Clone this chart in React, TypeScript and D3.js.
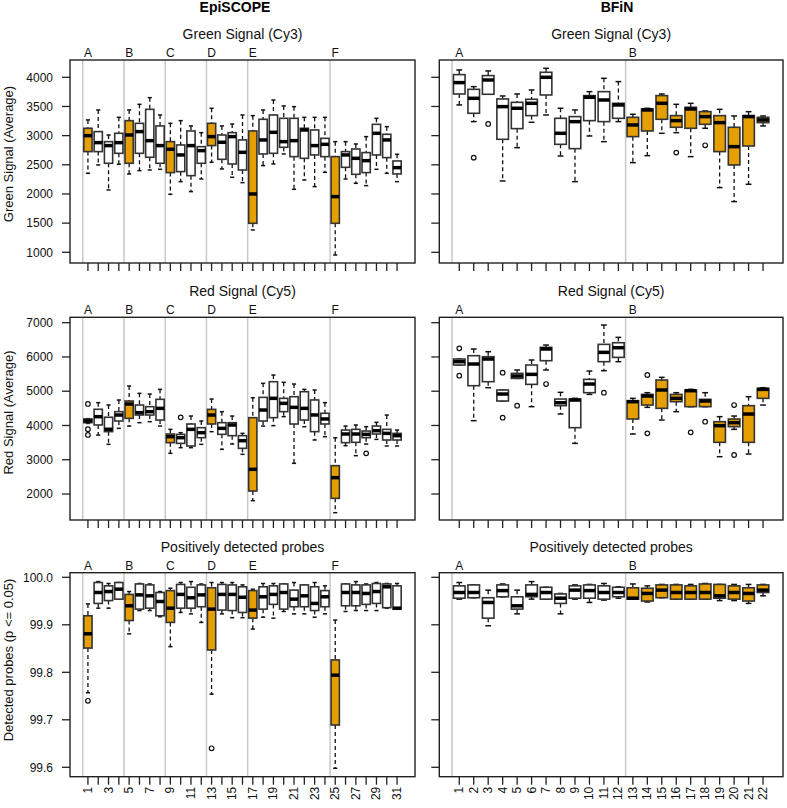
import React from "react";
import * as d3 from "d3";

type Stat = [number, number, number, number, number]; // lower whisker, q1, median, q3, upper whisker
type Out = [number, number]; // [box number, value]

const epiGreen: Stat[] = [
  [2354, 2726, 3000, 3126, 3269], [2497, 2726, 2880, 3069, 3440], [2069, 2526, 2829, 2897, 3011],
  [2509, 2697, 2880, 3040, 3314], [2343, 2526, 3011, 3257, 3440], [2400, 2697, 3069, 3211, 3537],
  [2411, 2629, 2914, 3451, 3651], [2423, 2526, 2829, 3166, 3354], [1994, 2366, 2766, 2897, 3211],
  [2211, 2383, 2669, 2840, 3257], [2040, 2314, 2829, 3080, 3166], [2257, 2526, 2743, 2811, 3051],
  [2543, 2829, 2983, 3211, 3469], [2429, 2594, 2886, 3011, 3166], [2286, 2514, 2983, 3051, 3200],
  [2194, 2411, 2714, 2926, 3354], [1383, 1497, 2000, 3080, 3343], [2486, 2686, 2926, 3280, 3440],
  [2514, 2697, 3057, 3354, 3611], [2686, 2800, 2897, 3297, 3509], [2080, 2640, 2914, 3297, 3497],
  [2240, 2611, 3097, 3126, 3314], [2126, 2669, 2829, 3097, 3314], [2371, 2640, 2851, 2954, 3314],
  [954, 1497, 1954, 2640, 2897], [2257, 2457, 2669, 2726, 2897], [2183, 2337, 2611, 2771, 2857],
  [2143, 2366, 2571, 2709, 2983], [2423, 2669, 3040, 3194, 3297], [2354, 2623, 2926, 3023, 3154],
  [2211, 2343, 2451, 2566, 2680],
];
const epiGreenOut: Out[] = [];

const bfinGreen: Stat[] = [
  [3526, 3714, 3909, 4046, 4126], [3240, 3383, 3640, 3794, 3840], [3709, 3709, 3954, 4029, 4109],
  [2223, 2937, 3497, 3629, 3680], [2794, 3120, 3469, 3571, 3714], [3229, 3343, 3554, 3623, 3783],
  [3354, 3697, 4000, 4086, 4154], [2651, 2851, 3040, 3297, 3469], [2211, 2777, 3240, 3326, 3440],
  [2994, 3257, 3657, 3686, 3754], [2897, 3240, 3611, 3754, 3983], [3240, 3297, 3526, 3554, 3926],
  [2537, 2983, 3183, 3314, 3366], [2657, 3080, 3440, 3457, 3469], [3040, 3280, 3554, 3686, 3714],
  [3051, 3143, 3257, 3343, 3537], [2640, 3126, 3457, 3486, 3554], [3126, 3194, 3326, 3411, 3423],
  [2109, 2726, 3223, 3343, 3451], [1869, 2497, 2811, 3143, 3337], [2166, 2823, 3326, 3343, 3411],
  [3166, 3223, 3269, 3314, 3337],
];
const bfinGreenOut: Out[] = [[2, 2623], [3, 3200], [16, 2709], [18, 2834]];

const epiRed: Stat[] = [
  [4060, 4082, 4135, 4190, 4200], [3720, 4015, 4257, 4473, 4666], [3450, 3820, 3890, 4240, 4598],
  [3916, 4130, 4305, 4403, 4743], [3984, 4208, 4626, 4714, 5152], [4082, 4305, 4374, 4597, 4938],
  [4111, 4305, 4403, 4549, 4918], [3984, 4159, 4500, 4763, 5054], [3187, 3498, 3673, 3751, 3887],
  [3352, 3478, 3644, 3741, 3790], [3352, 3401, 3887, 4043, 4276], [3449, 3644, 3790, 3936, 4130],
  [3819, 4043, 4305, 4471, 4772], [3303, 3741, 3916, 4082, 4403], [3459, 3702, 4014, 4082, 4276],
  [3158, 3333, 3556, 3702, 3770], [1805, 2087, 2720, 4228, 4811], [3984, 4130, 4451, 4821, 5230],
  [3994, 4228, 4792, 5278, 5473], [4257, 4403, 4646, 4792, 5259], [2895, 4043, 4529, 4840, 5210],
  [3965, 4159, 4500, 4986, 5054], [3577, 3820, 4307, 4745, 5036], [3673, 4044, 4190, 4356, 4666],
  [1455, 1873, 2477, 2827, 3640], [3410, 3498, 3751, 3867, 3984], [3119, 3508, 3751, 3887, 4014],
  [3459, 3644, 3741, 3838, 3965], [3595, 3751, 3848, 3984, 4092], [3401, 3576, 3770, 3887, 4305],
  [3401, 3576, 3702, 3770, 3867],
];
const epiRedOut: Out[] = [[1, 4628], [1, 3890], [1, 3723], [10, 4237], [28, 3187]];

const bfinRed: Stat[] = [
  [5765, 5765, 5862, 5940, 5940], [4140, 5161, 5794, 6037, 6232], [5103, 5278, 5940, 6008, 6154],
  [4714, 4714, 4918, 5035, 5035], [5375, 5375, 5444, 5521, 5619], [4549, 5200, 5492, 5765, 5911],
  [5619, 5891, 6232, 6280, 6348], [4335, 4578, 4665, 4772, 4967], [3478, 3936, 4743, 4772, 4792],
  [4908, 4957, 5210, 5346, 5589], [5599, 5862, 6134, 6368, 6932], [5862, 5988, 6270, 6416, 6572],
  [3751, 4189, 4694, 4724, 4792], [4529, 4597, 4860, 4908, 4957], [4159, 4500, 5035, 5327, 5405],
  [4403, 4694, 4792, 4908, 4957], [4549, 4549, 5015, 5035, 5054], [4549, 4549, 4714, 4763, 4957],
  [3089, 3508, 3994, 4111, 4257], [3887, 3965, 4082, 4189, 4276], [3167, 3508, 4334, 4578, 4840],
  [4597, 4792, 5054, 5084, 5103],
];
const bfinRedOut: Out[] = [
  [1, 6251], [1, 5453], [4, 5541], [4, 4227], [5, 4578], [7, 5210], [11, 4957],
  [14, 5473], [14, 3770], [17, 3799], [18, 4111], [20, 4597], [20, 3138],
];

const epiDet: Stat[] = [
  [99.757, 99.851, 99.881, 99.919, 99.944], [99.935, 99.945, 99.968, 99.989, 99.991], [99.935, 99.951, 99.970, 99.982, 99.987],
  [99.954, 99.954, 99.975, 99.989, 99.989], [99.881, 99.909, 99.940, 99.964, 99.970], [99.930, 99.933, 99.963, 99.986, 99.987],
  [99.930, 99.935, 99.961, 99.984, 99.986], [99.917, 99.919, 99.949, 99.968, 99.970], [99.854, 99.905, 99.935, 99.972, 99.977],
  [99.926, 99.935, 99.964, 99.985, 99.989], [99.923, 99.935, 99.957, 99.979, 99.991], [99.905, 99.938, 99.963, 99.984, 99.986],
  [99.754, 99.847, 99.933, 99.978, 99.989], [99.923, 99.931, 99.964, 99.985, 99.989], [99.915, 99.930, 99.964, 99.984, 99.989],
  [99.915, 99.926, 99.958, 99.980, 99.984], [99.891, 99.914, 99.931, 99.972, 99.975], [99.916, 99.933, 99.959, 99.980, 99.987],
  [99.914, 99.943, 99.964, 99.982, 99.987], [99.928, 99.933, 99.968, 99.986, 99.986], [99.923, 99.938, 99.954, 99.973, 99.989],
  [99.923, 99.938, 99.961, 99.984, 99.984], [99.916, 99.930, 99.945, 99.980, 99.989], [99.923, 99.938, 99.959, 99.972, 99.982],
  [99.598, 99.689, 99.794, 99.826, 99.910], [99.928, 99.940, 99.968, 99.986, 99.986], [99.930, 99.940, 99.968, 99.984, 99.991],
  [99.930, 99.943, 99.966, 99.984, 99.986], [99.930, 99.945, 99.970, 99.987, 99.989], [99.935, 99.936, 99.980, 99.986, 99.987],
  [99.933, 99.933, 99.935, 99.982, 99.987],
];
const epiDetOut: Out[] = [[1, 99.74], [13, 99.64]];

const bfinDet: Stat[] = [
  [99.954, 99.956, 99.968, 99.982, 99.989], [99.957, 99.957, 99.968, 99.984, 99.984], [99.898, 99.914, 99.947, 99.957, 99.973],
  [99.959, 99.959, 99.972, 99.984, 99.986], [99.923, 99.933, 99.940, 99.959, 99.973], [99.954, 99.959, 99.964, 99.984, 99.991],
  [99.954, 99.954, 99.968, 99.979, 99.979], [99.923, 99.945, 99.956, 99.965, 99.966], [99.954, 99.956, 99.973, 99.982, 99.984],
  [99.947, 99.956, 99.972, 99.984, 99.985], [99.952, 99.954, 99.968, 99.982, 99.987], [99.956, 99.959, 99.968, 99.979, 99.980],
  [99.954, 99.954, 99.956, 99.978, 99.986], [99.948, 99.950, 99.966, 99.977, 99.982], [99.957, 99.957, 99.973, 99.984, 99.985],
  [99.954, 99.954, 99.968, 99.984, 99.985], [99.954, 99.954, 99.968, 99.982, 99.985], [99.954, 99.954, 99.968, 99.986, 99.987],
  [99.951, 99.956, 99.961, 99.985, 99.985], [99.951, 99.954, 99.968, 99.982, 99.985], [99.945, 99.950, 99.966, 99.978, 99.985],
  [99.961, 99.968, 99.973, 99.984, 99.985],
];
const bfinDetOut: Out[] = [];

const epiGroups = ["A", "B", "C", "D", "E", "F"];
const epiGroupStarts = [1, 5, 9, 13, 17, 25];
const bfinGroups = ["A", "B"];
const bfinGroupStarts = [1, 13];
const epiHighlight = [1, 5, 9, 13, 17, 25];
const bfinHighlight = [13, 14, 15, 16, 17, 18, 19, 20, 21, 22];

const greenTicks = [1000, 1500, 2000, 2500, 3000, 3500, 4000];
const redTicks = [2000, 3000, 4000, 5000, 6000, 7000];
const detTicks = [99.6, 99.7, 99.8, 99.9, 100.0];

const columnTitles = ["EpiSCOPE", "BFiN"];
const rowTitles = ["Green Signal (Cy3)", "Red Signal (Cy5)", "Positively detected probes"];
const yAxisTitles = ["Green Signal (Average)", "Red Signal (Average)", "Detected probes (p <= 0.05)"];

const FONT = "'Liberation Sans', Arial, Helvetica, sans-serif";
const ORANGE = "#E69F00";
const DARK = "#333333";

interface PanelProps {
  x0: number; x1: number; y0: number; y1: number;
  stats: Stat[]; outs: Out[];
  yScale: d3.ScaleLinear<number, number>;
  ticks: number[]; tickFmt: (v: number) => string;
  showYLabels: boolean; showXLabels: boolean; xLabelStep: number;
  groups: string[]; groupStarts: number[]; highlight: number[];
  title: string;
}

function Panel(p: PanelProps) {
  const n = p.stats.length;
  const ext = n * 0.04;
  const x = d3.scaleLinear().domain([0.5 - ext, n + 0.5 + ext]).range([p.x0, p.x1]);
  const hw = x(1.4) - x(1); // half box width (boxwex 0.8)
  const sw = hw / 2;
  const y = p.yScale;
  const idx = d3.range(1, n + 1);
  return (
    <g>
      <text x={(p.x0 + p.x1) / 2} y={p.y0 - 21} textAnchor="middle" fontSize={14} fill="#111">{p.title}</text>
      {p.groupStarts.map((s, i) => (
        <g key={"g" + i}>
          <line x1={x(s - 0.5)} x2={x(s - 0.5)} y1={p.y0} y2={p.y1} stroke="#C8C8C8" strokeWidth={1.5} />
          <text x={x(s)} y={p.y0 - 3} textAnchor="middle" fontSize={12} fill="#111">{p.groups[i]}</text>
        </g>
      ))}
      {p.stats.map((s, i) => {
        const cx = x(i + 1);
        const [lo, q1, med, q3, hi] = s;
        const fill = p.highlight.includes(i + 1) ? ORANGE : "#fff";
        return (
          <g key={"b" + i}>
            <line x1={cx} x2={cx} y1={y(hi)} y2={y(q3)} stroke="#111" strokeWidth={1.3} strokeDasharray="4,3" />
            <line x1={cx} x2={cx} y1={y(q1)} y2={y(lo)} stroke="#111" strokeWidth={1.3} strokeDasharray="4,3" />
            <line x1={cx - sw} x2={cx + sw} y1={y(hi)} y2={y(hi)} stroke="#111" strokeWidth={1.5} />
            <line x1={cx - sw} x2={cx + sw} y1={y(lo)} y2={y(lo)} stroke="#111" strokeWidth={1.5} />
            <rect x={cx - hw} y={y(q3)} width={2 * hw} height={Math.max(0.5, y(q1) - y(q3))} fill={fill} stroke={DARK} strokeWidth={1.6} />
            <line x1={cx - hw} x2={cx + hw} y1={y(med)} y2={y(med)} stroke="#000" strokeWidth={3.5} />
          </g>
        );
      })}
      {p.outs.map((o, i) => (
        <circle key={"o" + i} cx={x(o[0])} cy={y(o[1])} r={2.3} fill="none" stroke="#111" strokeWidth={1.2} />
      ))}
      <rect x={p.x0} y={p.y0} width={p.x1 - p.x0} height={p.y1 - p.y0} fill="none" stroke="#222" strokeWidth={1.4} />
      {p.ticks.map((t, i) => (
        <g key={"yt" + i}>
          <line x1={p.x0 - 8} x2={p.x0} y1={y(t)} y2={y(t)} stroke="#222" strokeWidth={1.3} />
          {p.showYLabels && (
            <text x={p.x0 - 17} y={y(t)} dy="0.35em" textAnchor="end" fontSize={12} fill="#111">{p.tickFmt(t)}</text>
          )}
        </g>
      ))}
      {idx.map((k) => (
        <g key={"xt" + k}>
          <line x1={x(k)} x2={x(k)} y1={p.y1} y2={p.y1 + 8} stroke="#222" strokeWidth={1.3} />
          {p.showXLabels && (k - 1) % p.xLabelStep === 0 && (
            <text transform={`translate(${x(k)},${p.y1 + 10}) rotate(-90)`} textAnchor="end" dominantBaseline="central" fontSize={12} fill="#111">{String(k)}</text>
          )}
        </g>
      ))}
    </g>
  );
}

export default function App() {
  const cols = [
    { x0: 70, x1: 415 },
    { x0: 439.3, x1: 783 },
  ];
  const rows = [
    { y0: 60, y1: 263, scale: d3.scaleLinear().domain([1000, 4000]).range([252.3, 77.3]), ticks: greenTicks, fmt: (v: number) => String(v) },
    { y0: 317.3, y1: 520, scale: d3.scaleLinear().domain([2000, 7000]).range([494, 322.7]), ticks: redTicks, fmt: (v: number) => String(v) },
    { y0: 572.7, y1: 776.7, scale: d3.scaleLinear().domain([99.6, 100]).range([767.3, 577.3]), ticks: detTicks, fmt: (v: number) => v.toFixed(1) },
  ];
  const data = [
    [[epiGreen, epiGreenOut], [bfinGreen, bfinGreenOut]],
    [[epiRed, epiRedOut], [bfinRed, bfinRedOut]],
    [[epiDet, epiDetOut], [bfinDet, bfinDetOut]],
  ] as [Stat[], Out[]][][];
  const yTitleCenters = [154, 412.5, 660];
  return (
    <svg width={787} height={808} style={{ position: "absolute", left: 0, top: 0, display: "block" }}>
      <g fontFamily={FONT}>
        <rect x={0} y={0} width={787} height={808} fill="#fff" />
        <text x={235} y={12} textAnchor="middle" fontSize={14} fontWeight="bold" fill="#000">{columnTitles[0]}</text>
        <text x={617} y={12} textAnchor="middle" fontSize={14} fontWeight="bold" fill="#000">{columnTitles[1]}</text>
        {rows.map((r, ri) => (
          <text key={"yl" + ri} transform={`translate(13,${yTitleCenters[ri]}) rotate(-90)`} textAnchor="middle" fontSize={13} fill="#111">{yAxisTitles[ri]}</text>
        ))}
        {rows.map((r, ri) =>
          cols.map((c, ci) => (
            <Panel
              key={`p${ri}-${ci}`}
              x0={c.x0} x1={c.x1} y0={r.y0} y1={r.y1}
              stats={data[ri][ci][0]} outs={data[ri][ci][1]}
              yScale={r.scale} ticks={r.ticks} tickFmt={r.fmt}
              showYLabels={ci === 0} showXLabels={ri === 2} xLabelStep={ci === 0 ? 2 : 1}
              groups={ci === 0 ? epiGroups : bfinGroups}
              groupStarts={ci === 0 ? epiGroupStarts : bfinGroupStarts}
              highlight={ci === 0 ? epiHighlight : bfinHighlight}
              title={rowTitles[ri]}
            />
          ))
        )}
      </g>
    </svg>
  );
}
